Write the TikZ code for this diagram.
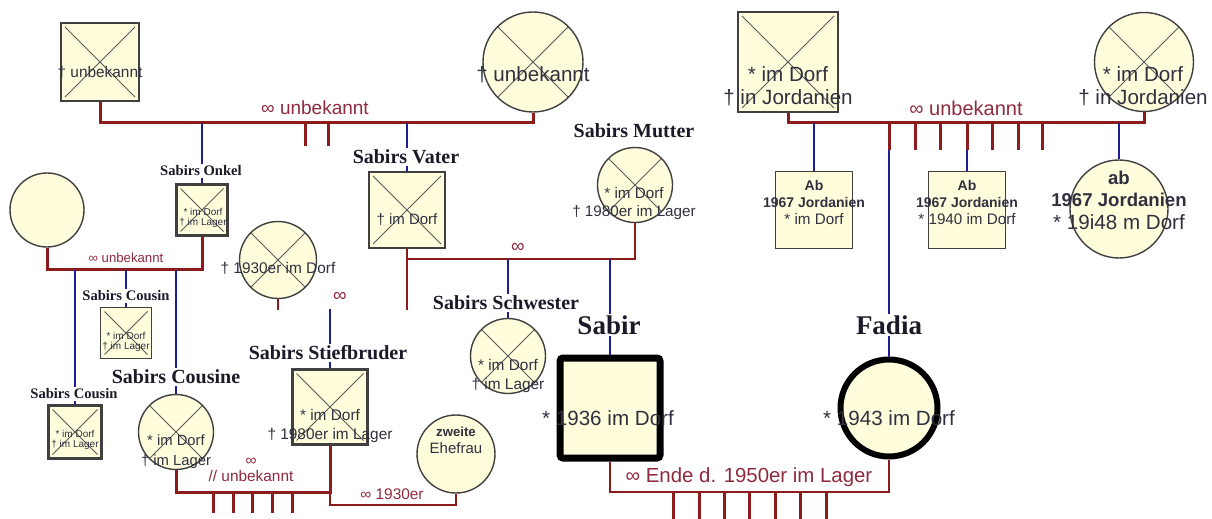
\documentclass[tikz,border=0pt]{standalone}
\usepackage{fontspec}
\setmainfont{Liberation Serif}
\newfontfamily\arial{Liberation Sans}
\usepackage{tikz}
\usetikzlibrary{positioning}
\definecolor{famcream}{HTML}{FFFDDC}
\definecolor{famgray}{HTML}{404040}
\definecolor{famcross}{HTML}{5A5A5A}
\definecolor{famred}{HTML}{8C1C1C}
\definecolor{famblue}{HTML}{1E1E96}
\definecolor{famtext}{HTML}{30303F}
\definecolor{famlabel}{HTML}{1A1A28}
\definecolor{famwed}{HTML}{8E2A3E}
\newcommand{\famfs}[2]{\fontsize{#1}{#2}\selectfont}

\begin{document}
\begin{tikzpicture}[
  x=0.5pt,y=-0.5pt,
  person/.style={draw=famgray,fill=famcream,line width=0.7pt,inner sep=0pt},
  male/.style={person,rectangle,minimum size=#1},
  female/.style={person,circle,minimum size=#1},
  heavy/.style={line width=1.1pt},
  crossed/.style={path picture={
    \draw[famcross,line width=0.5pt]
      ([shift={(2pt,-2pt)}]path picture bounding box.north west) --
      ([shift={(-2pt,2pt)}]path picture bounding box.south east)
      ([shift={(-2pt,-2pt)}]path picture bounding box.north east) --
      ([shift={(2pt,2pt)}]path picture bounding box.south west);}},
  marr/.style={draw=famred,line width=1.5pt},
  marrmid/.style={draw=famred,line width=1pt},
  marrthin/.style={draw=famred,line width=0.6pt},
  kid/.style={draw=famblue,line width=1.4pt},
  kidthin/.style={draw=famblue,line width=0.6pt},
  role/.style={font=\bfseries\famfs{10}{12},text=famlabel,fill=white,inner sep=1pt},
  rolesmall/.style={role,font=\bfseries\famfs{7.3}{9}},
  rolebig/.style={role,font=\bfseries\famfs{13.5}{15}},
  info/.style={font=\arial\famfs{7.7}{9.5},text=famtext,align=center,inner sep=0pt},
  infoL/.style={info,font=\arial\famfs{10.3}{11.5}},
  infoS/.style={info,font=\arial\famfs{5}{5}},
  wed/.style={font=\arial\famfs{9.5}{11},text=famwed,inner sep=0pt,align=center}
]
  \useasboundingbox (0,0) rectangle (1212,519);

  % grandparents
  \node[male=39pt,heavy,crossed] (grossvaterV) at (100,62) {};
  \node[female=50pt,crossed] (grossmutterV) at (533,62) {};
  \node[male=50pt,crossed] (grossvaterM) at (788,62) {};
  \node[female=49.5pt,crossed] (grossmutterM) at (1144,62) {};

  % uncle and his family
  \node[male=25.5pt,heavy,crossed] (onkel) at (202,210) {};
  \node[female=37pt] (tante) at (47,210) {};
  \node[male=25.5pt,crossed] (cousinA) at (126,333) {};
  \node[male=26.5pt,heavy,crossed] (cousinB) at (75,432) {};
  \node[female=37.5pt,crossed] (cousine) at (176,432) {};

  % parents and siblings
  \node[female=38.5pt,crossed] (ersteFrau) at (278,260) {};
  \node[male=38pt,heavy,crossed] (vater) at (407,210) {};
  \node[female=37.5pt,crossed] (mutter) at (635,185) {};
  \node[female=37.5pt,crossed] (schwester) at (508,356) {};
  \node[male=37.5pt,heavy,crossed] (stiefbruder) at (330,407) {};
  \node[female=39pt] (ehefrau) at (456,454) {};

  % the couple
  \node[male=50pt,draw=black,line width=3.5pt,rounded corners=1.5pt] (sabir) at (610,408) {};
  \node[female=48.5pt,draw=black,line width=3pt] (fadia) at (889,408) {};

  % Fadia's siblings
  \node[male=38.5pt] (bruderA) at (814,210) {};
  \node[male=38.5pt] (bruderB) at (967,210) {};
  \node[female=49pt] (schwesterF) at (1119,209) {};

  % marriage of the paternal grandparents
  \coordinate (ehe1) at (0,123);
  \draw[marr] (grossvaterV.south) -- (grossvaterV.south |- ehe1) -- (grossmutterV.south |- ehe1) -- (grossmutterV.south);
  \node[wed] (ehe1txt) at (315,108) {∞ unbekannt};
  \foreach \x in {305,328}
    \draw[marr] ([xshift=\x*0.5pt]ehe1) -- ++(0,23);
  \draw[kid] (onkel.north |- ehe1) -- (onkel.north);
  \draw[kid] (vater.north |- ehe1) -- (vater.north);

  % marriage of the uncle
  \coordinate (ehe2) at (0,270);
  \draw[marr] (onkel.south) -- (onkel.south |- ehe2) -- (tante.south |- ehe2) -- (tante.south);
  \node[wed,font=\arial\famfs{6.6}{8}] (ehe2txt) at (126,258) {∞ unbekannt};
  \draw[kid] (cousinB.north |- ehe2) -- (cousinB.north);
  \draw[kid] (cousinA.north |- ehe2) -- (cousinA.north);
  \draw[kidthin] (cousine.north |- ehe2) -- (cousine.north);

  % marriage of the parents
  \coordinate (ehe3) at (0,259);
  \draw[marrmid] (vater.south) -- ++(0,61);
  \draw[marrmid] (vater.south |- ehe3) -| (mutter.south);
  \node[wed] (ehe3txt) at (518,248) {∞};
  \draw[kidthin] (schwester.north |- ehe3) -- (schwester.north);
  \draw[kidthin] (sabir.north |- ehe3) -- (sabir.north);

  % first wife of the father
  \draw[marrmid] (ersteFrau.south) -- ++(0,11);
  \node[wed] (ehe4txt) at (340,297) {∞};
  \coordinate (stiefTop) at (330,309);
  \draw[kidthin] (stiefTop) -- (stiefbruder.north);

  % cousine and stepbrother
  \coordinate (ehe5) at (0,492);
  \draw[marr] (cousine.south) -- (cousine.south |- ehe5) -- (stiefbruder.south |- ehe5) -- (stiefbruder.south);
  \node[wed,font=\arial\famfs{7.7}{8}] (ehe5txt) at (251,470) {∞\\// unbekannt};
  \foreach \x in {213,233,252,272,292}
    \draw[marr] ([xshift=\x*0.5pt]ehe5) -- ++(0,21);

  % second wife of the stepbrother
  \coordinate (ehe6) at (0,505);
  \draw[marrthin] (stiefbruder.south) -- (stiefbruder.south |- ehe6) -- (ehefrau.south |- ehe6) -- (ehefrau.south);
  \node[wed,font=\arial\famfs{7.7}{9}] (ehe6txt) at (392,494) {∞ 1930er};

  % Sabir and Fadia
  \coordinate (ehe7) at (0,492);
  \draw[marrmid] (sabir.south) -- (sabir.south |- ehe7) -- (fadia.south |- ehe7) -- (fadia.south);
  \node[wed,font=\arial\famfs{10.2}{12}] (ehe7txt) at (749,477) {∞ Ende d. 1950er im Lager};
  \foreach \x in {673,699,724,749,775,800,826}
    \draw[marr] ([xshift=\x*0.5pt]ehe7) -- ++(0,27);

  % marriage of the maternal grandparents
  \coordinate (ehe8) at (0,123);
  \draw[marr] (grossvaterM.south) -- (grossvaterM.south |- ehe8) -- (grossmutterM.south |- ehe8) -- (grossmutterM.south);
  \node[wed,font=\arial\famfs{10}{12}] (ehe8txt) at (966,108) {∞ unbekannt};
  \foreach \x in {889,915,940,967,992,1018,1042}
    \draw[marr] ([xshift=\x*0.5pt]ehe8) -- ++(0,27);
  \coordinate (tickF) at (889,150);
  \coordinate (tickB) at (967,150);
  \draw[kid] (bruderA.north |- ehe8) -- (bruderA.north);
  \draw[kid] (tickB) -- (bruderB.north);
  \draw[kid] (tickF) -- (fadia.north);
  \draw[kid] (schwesterF.north |- ehe8) -- (schwesterF.north);

  % relation labels
  \node[rolesmall] (onkelLbl) at (201,171) {Sabirs Onkel};
  \node[role] (vaterLbl) at (406,157) {Sabirs Vater};
  \node[role] (mutterLbl) at (634,131) {Sabirs Mutter};
  \node[rolesmall] (cousinALbl) at (126,296) {Sabirs Cousin};
  \node[rolesmall] (cousinBLbl) at (74,394) {Sabirs Cousin};
  \node[role] (cousineLbl) at (176,377) {Sabirs Cousine};
  \node[role] (stiefLbl) at (328,353) {Sabirs Stiefbruder};
  \node[role] (schwesterLbl) at (506,303) {Sabirs Schwester};
  \node[rolebig] (sabirLbl) at (609,325) {Sabir};
  \node[rolebig] (fadiaLbl) at (889,325) {Fadia};

  % dates and places
  \node[info] (grossvaterVTxt) at (100,72) {† unbekannt};
  \node[infoL] (grossmutterVTxt) at (533,75) {† unbekannt};
  \node[infoL] (grossvaterMTxt) at (788,86) {* im Dorf\\† in Jordanien};
  \node[infoL] (grossmutterMTxt) at (1143,86) {* im Dorf\\† in Jordanien};
  \node[infoS] (onkelTxt) at (203,218) {* im Dorf\\† im Lager};
  \node[infoS] (cousinATxt) at (126,342) {* im Dorf\\† im Lager};
  \node[infoS] (cousinBTxt) at (75,440) {* im Dorf\\† im Lager};
  \node[info,font=\arial\famfs{7.4}{10}] (cousineTxt) at (176,452) {* im Dorf\\† im Lager};
  \node[info] (ersteFrauTxt) at (278,268) {† 1930er im Dorf};
  \node[info,font=\arial\famfs{7.5}{9.5}] (vaterTxt) at (407,220) {† im Dorf};
  \node[info,font=\arial\famfs{7.6}{9}] (mutterTxt) at (634,204) {* im Dorf\\† 1980er im Lager};
  \node[info] (schwesterTxt) at (508,376) {* im Dorf\\† im Lager};
  \node[info] (stiefbruderTxt) at (330,426) {* im Dorf\\† 1980er im Lager};
  \node[info,font=\arial\famfs{7.5}{8.5}] (ehefrauTxt) at (456,440)
    {{\bfseries\fontsize{6.6}{8.5}\selectfont zweite}\\Ehefrau};
  \node[infoL] (sabirTxt) at (608,418) {* 1936 im Dorf};
  \node[infoL] (fadiaTxt) at (889,418) {* 1943 im Dorf};
  \node[info,font=\arial\famfs{7.6}{8.5}] (bruderATxt) at (814,203)
    {{\bfseries\fontsize{7}{8.5}\selectfont Ab}\\{\bfseries\fontsize{7}{8.5}\selectfont 1967 Jordanien}\\{}* im Dorf};
  \node[info,font=\arial\famfs{7.6}{8.5}] (bruderBTxt) at (967,203)
    {{\bfseries\fontsize{7}{8.5}\selectfont Ab}\\{\bfseries\fontsize{7}{8.5}\selectfont 1967 Jordanien}\\{}* 1940 im Dorf};
  \node[info,font=\arial\famfs{10.3}{11.25}] (schwesterFTxt) at (1119,200)
    {{\bfseries\fontsize{9.3}{11.25}\selectfont ab}\\{\bfseries\fontsize{9.3}{11.25}\selectfont 1967 Jordanien}\\{}* 19i48 m Dorf};
\end{tikzpicture}
\end{document}
